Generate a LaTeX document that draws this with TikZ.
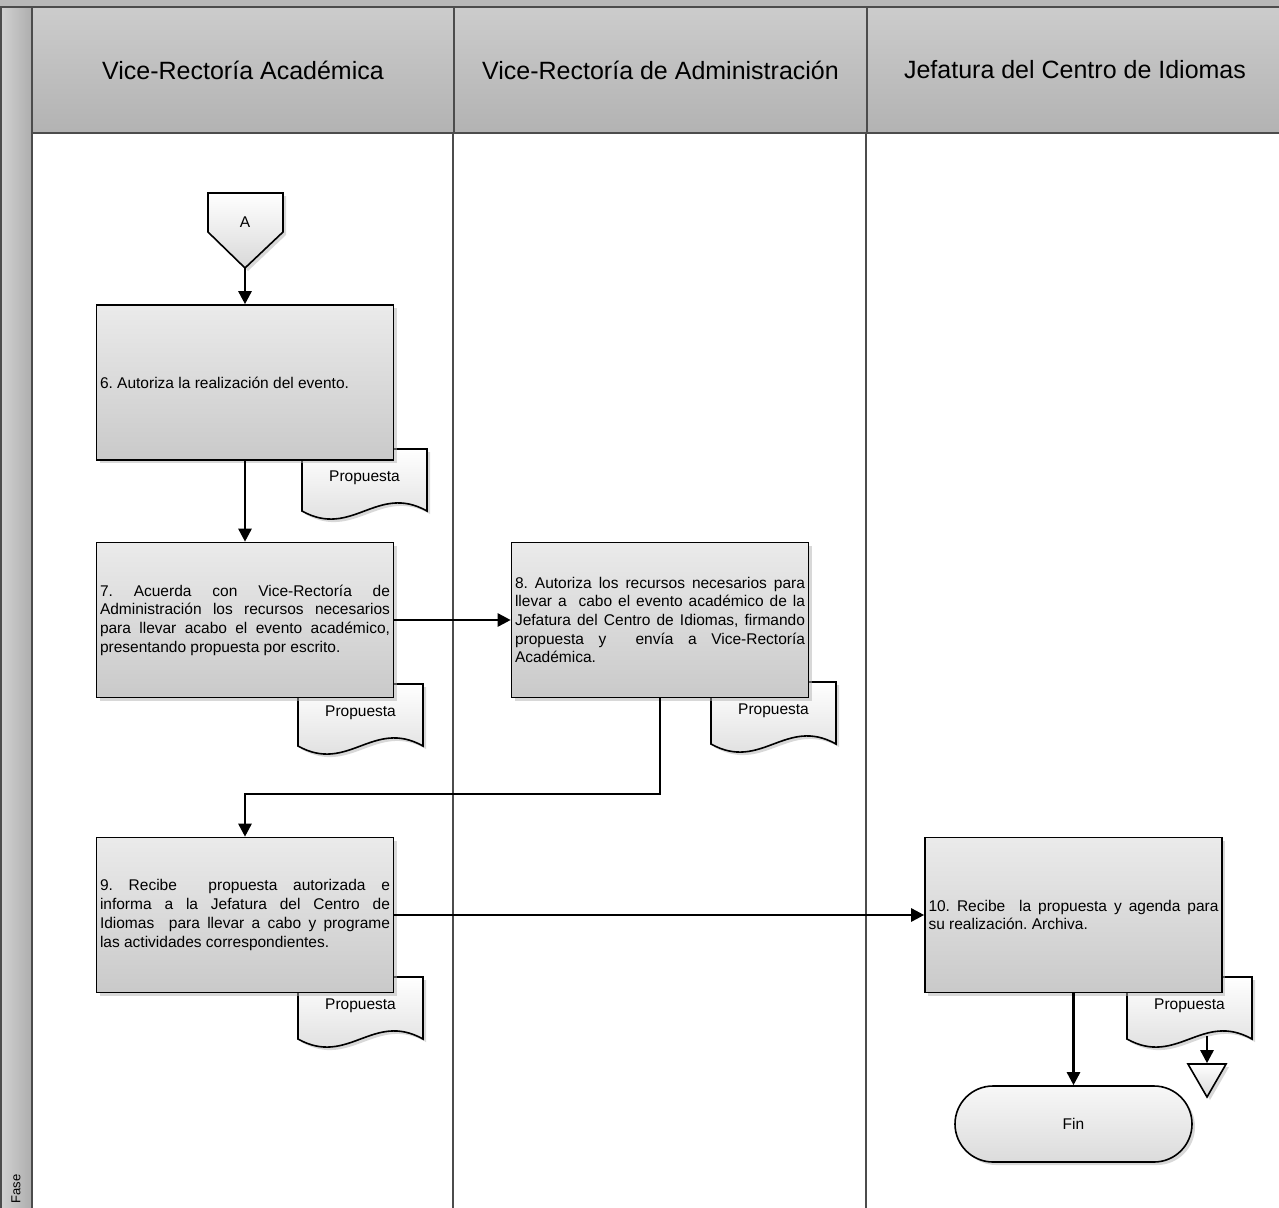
\documentclass[tikz,border=0pt]{standalone}
\usepackage{fontspec}
\setmainfont{Liberation Sans}
\frenchspacing
\usetikzlibrary{arrows.meta, positioning, shapes.geometric, shadows}

% document symbol with wavy bottom: name, top-left corner
\newcommand{\propdoc}[2]{%
  \begin{scope}[shift={(#2)}]
    \shadedraw[docshape] (0,0) -- (125,0) -- (125,62) .. controls (75,34) and (50,90) .. (0,62) -- cycle;
    \node[doctext] (#1) at (62.5,29) {Propuesta};
  \end{scope}}

\begin{document}
\begin{tikzpicture}[
  x=1pt, y=-1pt,
  frame/.style={draw=black!70, line width=2pt},
  lanehead/.style={frame, top color=black!20, bottom color=black!30, minimum height=126pt, inner sep=0pt, font=\fontsize{25}{30}\selectfont},
  stepbox/.style={draw=black, line width=1.6pt, top color=black!8, bottom color=black!21, minimum width=297pt, minimum height=155pt, text width=290pt, inner xsep=3.5pt, align=justify, font=\fontsize{15.5}{18.7}\selectfont, drop shadow={shadow xshift=3pt, shadow yshift=-3pt, fill=black!30, opacity=0.5}},
  docshape/.style={draw=black, line width=1.6pt, top color=white, bottom color=black!15, drop shadow={shadow xshift=3pt, shadow yshift=-3pt, fill=black!30, opacity=0.5}},
  doctext/.style={font=\fontsize{15.5}{18}\selectfont, inner sep=0pt},
  endbox/.style={draw=black, line width=1.6pt, rounded corners=38pt, top color=black!3, bottom color=black!14, minimum width=237pt, minimum height=76pt, font=\fontsize{15.5}{18}\selectfont, drop shadow={shadow xshift=3pt, shadow yshift=-3pt, fill=black!30, opacity=0.5}},
  arrow/.style={-{Triangle[length=13pt,width=13pt]}, line width=2.6pt}
]
\useasboundingbox (0,0) rectangle (1279,1207);

% pool frame
\fill[black!28] (0,0) rectangle (1285,7);
\shadedraw[frame, left color=black!18, right color=black!32] (1,7) rectangle (32,1215);
\node[rotate=90, font=\fontsize{13}{15}\selectfont] (fase) at (16,1189) {Fase};
\draw[frame] (0,7) -- (1285,7);

% lanes
\node[lanehead, minimum width=422pt] (h1) at (243,70) {Vice-Rectoría Académica};
\node[lanehead, minimum width=413pt] (h2) at (660.5,70) {Vice-Rectoría de Administración};
\node[lanehead, minimum width=416pt] (h3) at (1075,70) {Jefatura del Centro de Idiomas};
\draw[frame] (h2.south west) -- ++(0,1080);
\draw[frame] (h3.south west) -- ++(0,1080);

% documents
\propdoc{d6}{302,449}
\propdoc{d7}{298,684}
\propdoc{d8}{711,682}
\propdoc{d9}{298,977}
\propdoc{d10}{1127,977}

% off-page connector
\shadedraw[docshape] (208,193) -- (283,193) -- (283,232) -- (245,268) -- (208,232) -- cycle;
\node[doctext] (A) at (245,222) {A};
\coordinate (Atip) at (245,268);

% steps
\node[stepbox] (b6) at (245,382.5) {6. Autoriza la realización del evento.};
\node[stepbox] (b7) at (245,620) {7. Acuerda con Vice-Rectoría de\linebreak Administración los recursos necesarios\linebreak para llevar acabo el evento académico,\linebreak presentando propuesta por escrito.};
\node[stepbox] (b8) at (660,620) {8. Autoriza los recursos necesarios para\linebreak llevar a~ cabo el evento académico de la\linebreak Jefatura del Centro de Idiomas, firmando\linebreak propuesta y~ envía a Vice-Rectoría\linebreak Académica.};
\node[stepbox] (b9) at (245,915) {9. Recibe~ propuesta autorizada e\linebreak informa a la Jefatura del Centro de\linebreak Idiomas~ para llevar a cabo y programe\linebreak las actividades correspondientes.};
\node[stepbox] (b10) at (1073.5,915) {10. Recibe~ la propuesta y agenda para\linebreak su realización. Archiva.};

\node[endbox] (fin) at (1073.5,1124) {Fin};
\node[regular polygon, regular polygon sides=3, shape border rotate=180, minimum size=44pt, inner sep=0pt, docshape] (arch) at (1207,1075) {};
\coordinate (d10out) at (1207,1036);
\coordinate (turn) at (245,794);

% flow
\draw[arrow] (Atip) -- (b6);
\draw[arrow] (b6) -- (b7);
\draw[arrow] (b7) -- (b8);
\draw[arrow] (b8.south) |- (turn) -- (b9);
\draw[arrow] (b9) -- (b10);
\draw[arrow] (b10) -- (fin);
\draw[arrow] (d10out) -- (arch);
\end{tikzpicture}
\end{document}
